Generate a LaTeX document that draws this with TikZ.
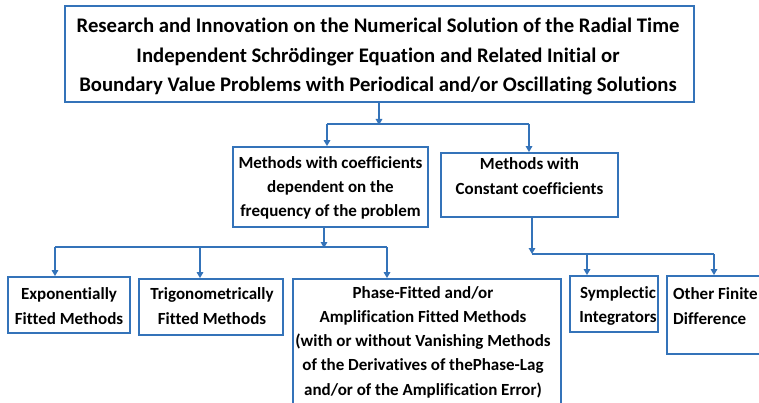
\documentclass[tikz,border=0pt]{standalone}
\usepackage{fontspec}
\setmainfont{Carlito}[Ligatures=NoCommon]
\usetikzlibrary{arrows.meta}
\definecolor{boxblue}{RGB}{52,115,185}
\tikzset{
  boxnode/.style={draw=boxblue, line width=1.8pt, rectangle, inner sep=0pt, fill=white},
  conn/.style={draw=boxblue, line width=1.8pt},
  arr/.style={conn, -{Triangle[width=6.5pt,length=6pt]}},
  bigtext/.style={font=\fontsize{20.7}{29.5}\selectfont\bfseries, align=center, inner sep=0pt},
  midtext/.style={font=\fontsize{17}{24.3}\selectfont\bfseries, align=center, inner sep=0pt},
  lefttext/.style={font=\fontsize{17}{24.3}\selectfont\bfseries, align=left, inner sep=0pt},
}
\begin{document}
\begin{tikzpicture}[x=1pt,y=-1pt]
\clip (0,0) rectangle (759,403);
\fill[white] (0,0) rectangle (759,403);
% boxes
\node[boxnode, minimum width=629pt, minimum height=96pt] (top) at (379.5,54) {};
\node[bigtext] (toptext) at (378,56.5) {Research and Innovation on the Numerical Solution of the Radial Time\\Independent Schrödinger Equation and Related Initial or\\Boundary Value Problems with Periodical and/or Oscillating Solutions};

\node[boxnode, minimum width=195pt, minimum height=80pt] (ml) at (330.5,187) {};
\node[midtext] (mltext) at (330.5,188) {Methods with coefficients\\dependent on the\\frequency of the problem};

\node[boxnode, minimum width=177pt, minimum height=64pt] (mr) at (529.5,185) {};
\node[midtext] (mrtext) at (529.5,176) {Methods with\\Constant coefficients};

\node[boxnode, minimum width=122pt, minimum height=56pt] (exp) at (69,305) {};
\node[midtext] (exptext) at (69,306) {Exponentially\\Fitted Methods};

\node[boxnode, minimum width=144pt, minimum height=56pt] (trig) at (211,307) {};
\node[midtext] (trigtext) at (212,306) {Trigonometrically\\Fitted Methods};

\node[boxnode, minimum width=268pt, minimum height=131pt] (phase) at (427,344.5) {};
\node[midtext] (phasetext) at (423,342) {Phase-Fitted and/or\\Amplification Fitted Methods\\(with or without Vanishing Methods\\of the Derivatives of thePhase-Lag\\and/or of the Amplification Error)};

\node[boxnode, minimum width=88pt, minimum height=56pt] (symp) at (614,304) {};
\node[midtext] (symptext) at (618,306) {Symplectic\\Integrators};

\node[boxnode, minimum width=123pt, minimum height=78pt] (other) at (728.5,315) {};
\node[lefttext, anchor=west] (othertext) at (673,306) {Other Finite\\Difference};

% junction coordinates
\coordinate (j1) at (379,124);
\coordinate (j1l) at (327,124);
\coordinate (j1r) at (529,124);
\coordinate (j2) at (324,247);
\coordinate (j2a) at (55,247);
\coordinate (j2b) at (200,247);
\coordinate (j2c) at (387,247);
\coordinate (j3) at (532,254);
\coordinate (j3a) at (587,254);
\coordinate (j3b) at (714,254);

% connectors
\draw[arr] (top.south -| j1) -- ([yshift=-1pt]j1);
\draw[conn] (j1l) -- (j1r);
\draw[arr] (j1l) -- (j1l |- ml.north);
\draw[arr] (j1r) -- (j1r |- mr.north);

\draw[arr] (ml.south -| j2) -- ([yshift=-1pt]j2);
\draw[conn] (j2a) -- (j2c);
\draw[arr] (j2a) -- (j2a |- exp.north);
\draw[arr] (j2b) -- (j2b |- trig.north);
\draw[arr] (j2c) -- (j2c |- phase.north);

\draw[arr] (mr.south -| j3) -- (j3);
\draw[conn] (j3) -- (j3b);
\draw[arr] (j3a) -- (j3a |- symp.north);
\draw[arr] (j3b) -- (j3b |- other.north);
\end{tikzpicture}
\end{document}
